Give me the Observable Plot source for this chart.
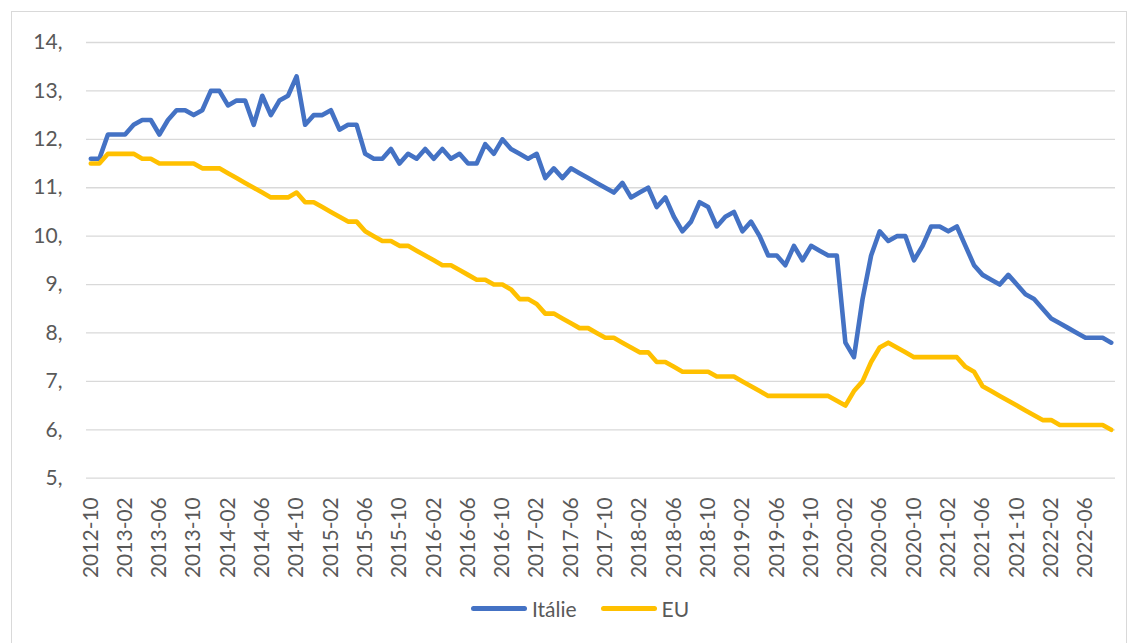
<!DOCTYPE html>
<html>
<head>
<meta charset="utf-8">
<script src="https://cdn.jsdelivr.net/npm/d3@7"></script>
<script src="https://cdn.jsdelivr.net/npm/@observablehq/plot@0.6"></script>
<style>
  html, body { margin: 0; padding: 0; background: #fff; }
  #wrap { position: relative; width: 1134px; height: 643px; overflow: hidden; font-family: Lato, "Open Sans", sans-serif; }
  #frame { position: absolute; left: 11px; top: 11px; width: 1116px; height: 660px; border: 1px solid #d9d9d9; box-sizing: border-box; }
  #chart { position: absolute; left: 0; top: 0; }
  #legend { position: absolute; top: 596px; left: 0; width: 1160px; display: flex; justify-content: center; gap: 24px; font-size: 21px; color: #595959; }
  .item { display: flex; align-items: center; gap: 5px; }
  .sw { width: 56px; height: 5px; border-radius: 3px; }
</style>
</head>
<body>
<div id="wrap">
  <div id="frame"></div>
  <div id="chart"></div>
  <div id="legend"></div>
</div>
<script>
// Categories: monthly, 2012-10 .. 2022-09
const startYear = 2012, startMonth = 10, nMonths = 120;
const months = [];
for (let i = 0; i < nMonths; i++) {
  const m0 = startMonth - 1 + i;
  const y = startYear + Math.floor(m0 / 12);
  const m = (m0 % 12) + 1;
  months.push(y + "-" + String(m).padStart(2, "0"));
}

const seriesNames = ["Itálie", "EU"];
const seriesColors = ["#4472C4", "#FFC000"];

const italy = [
  11.6, 11.6, 12.1, 12.1, 12.1, 12.3, 12.4, 12.4, 12.1, 12.4,
  12.6, 12.6, 12.5, 12.6, 13.0, 13.0, 12.7, 12.8, 12.8, 12.3,
  12.9, 12.5, 12.8, 12.9, 13.3, 12.3, 12.5, 12.5, 12.6, 12.2,
  12.3, 12.3, 11.7, 11.6, 11.6, 11.8, 11.5, 11.7, 11.6, 11.8,
  11.6, 11.8, 11.6, 11.7, 11.5, 11.5, 11.9, 11.7, 12.0, 11.8,
  11.7, 11.6, 11.7, 11.2, 11.4, 11.2, 11.4, 11.3, 11.2, 11.1,
  11.0, 10.9, 11.1, 10.8, 10.9, 11.0, 10.6, 10.8, 10.4, 10.1,
  10.3, 10.7, 10.6, 10.2, 10.4, 10.5, 10.1, 10.3, 10.0, 9.6,
  9.6, 9.4, 9.8, 9.5, 9.8, 9.7, 9.6, 9.6, 7.8, 7.5,
  8.7, 9.6, 10.1, 9.9, 10.0, 10.0, 9.5, 9.8, 10.2, 10.2,
  10.1, 10.2, 9.8, 9.4, 9.2, 9.1, 9.0, 9.2, 9.0, 8.8,
  8.7, 8.5, 8.3, 8.2, 8.1, 8.0, 7.9, 7.9, 7.9, 7.8
];

const eu = [
  11.5, 11.5, 11.7, 11.7, 11.7, 11.7, 11.6, 11.6, 11.5, 11.5,
  11.5, 11.5, 11.5, 11.4, 11.4, 11.4, 11.3, 11.2, 11.1, 11.0,
  10.9, 10.8, 10.8, 10.8, 10.9, 10.7, 10.7, 10.6, 10.5, 10.4,
  10.3, 10.3, 10.1, 10.0, 9.9, 9.9, 9.8, 9.8, 9.7, 9.6,
  9.5, 9.4, 9.4, 9.3, 9.2, 9.1, 9.1, 9.0, 9.0, 8.9,
  8.7, 8.7, 8.6, 8.4, 8.4, 8.3, 8.2, 8.1, 8.1, 8.0,
  7.9, 7.9, 7.8, 7.7, 7.6, 7.6, 7.4, 7.4, 7.3, 7.2,
  7.2, 7.2, 7.2, 7.1, 7.1, 7.1, 7.0, 6.9, 6.8, 6.7,
  6.7, 6.7, 6.7, 6.7, 6.7, 6.7, 6.7, 6.6, 6.5, 6.8,
  7.0, 7.4, 7.7, 7.8, 7.7, 7.6, 7.5, 7.5, 7.5, 7.5,
  7.5, 7.5, 7.3, 7.2, 6.9, 6.8, 6.7, 6.6, 6.5, 6.4,
  6.3, 6.2, 6.2, 6.1, 6.1, 6.1, 6.1, 6.1, 6.1, 6.0
];

const yTicks = [5, 6, 7, 8, 9, 10, 11, 12, 13, 14];
const xTicks = months.filter((d, i) => i % 4 === 0);

const rows = [];
[italy, eu].forEach((vals, s) => {
  vals.forEach((v, i) => rows.push({ month: months[i], value: v, series: seriesNames[s] }));
});

const chart = Plot.plot({
  width: 1134,
  height: 590,
  marginLeft: 86,
  marginRight: 19,
  marginTop: 42,
  marginBottom: 112.3,
  style: { fontFamily: "Lato, 'Open Sans', sans-serif", fontSize: "21px", color: "#595959", background: "transparent" },
  x: { type: "point", domain: months, padding: 0.5, label: null },
  y: { domain: [5, 14], label: null },
  color: { domain: seriesNames, range: seriesColors },
  marks: [
    Plot.gridY(yTicks, { stroke: "#d9d9d9", strokeOpacity: 1, strokeWidth: 1.3 }),
    Plot.axisY({ ticks: yTicks, tickFormat: d => d + ",", tickSize: 0, tickPadding: 24, fill: "#595959", fontSize: 21 }),
    Plot.axisX({ ticks: xTicks, tickRotate: -90, tickSize: 0, tickPadding: 19, fill: "#595959", fontSize: 21 }),
    Plot.line(rows, { x: "month", y: "value", z: "series", stroke: "series", strokeWidth: 4.6, strokeLinejoin: "round", strokeLinecap: "round" })
  ]
});
document.getElementById("chart").appendChild(chart);

const legend = document.getElementById("legend");
seriesNames.forEach((n, i) => {
  const it = document.createElement("div");
  it.className = "item";
  const sw = document.createElement("div");
  sw.className = "sw";
  sw.style.background = seriesColors[i];
  const t = document.createElement("span");
  t.textContent = n;
  it.appendChild(sw);
  it.appendChild(t);
  legend.appendChild(it);
});
</script>
</body>
</html>
